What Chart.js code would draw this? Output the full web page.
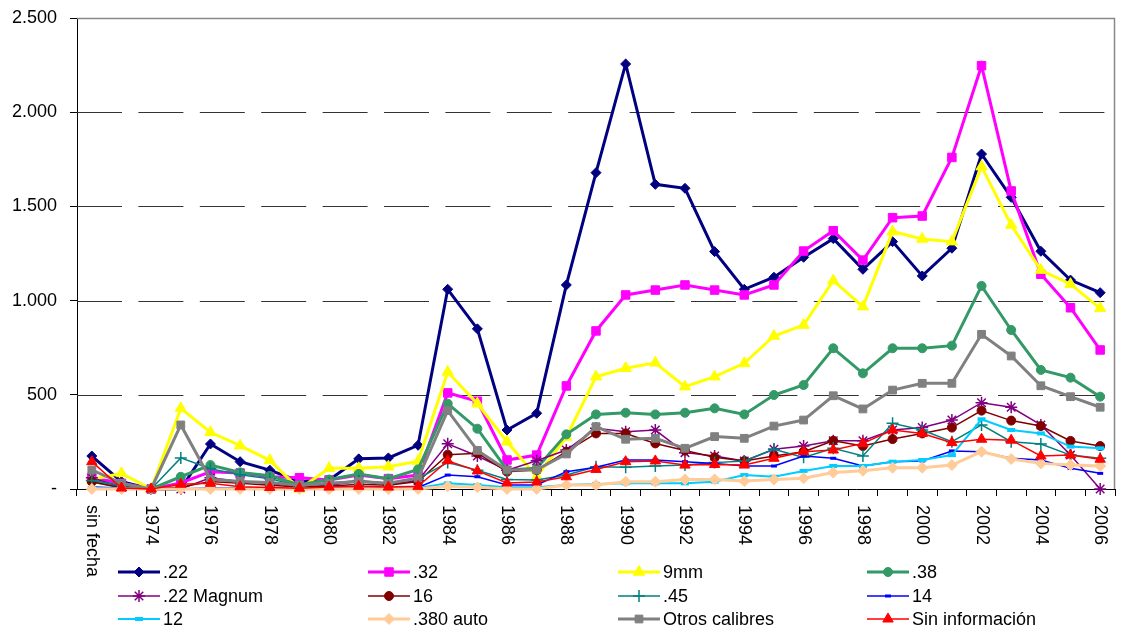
<!DOCTYPE html>
<html lang="es">
<head>
<meta charset="utf-8">
<title>Armas por calibre y año</title>
<script src="https://cdn.jsdelivr.net/npm/chart.js@4.4.1/dist/chart.umd.min.js"></script>
<style>
  html, body { margin: 0; padding: 0; background: #ffffff; }
  #wrap { width: 1123px; height: 635px; position: relative; }
</style>
</head>
<body>
<div id="wrap"><canvas id="c" width="1123" height="635"></canvas></div>
<script>
// Categorías del eje X
const years = ['sin fecha', '1973', '1974', '1975', '1976', '1977', '1978', '1979', '1980',
  '1981', '1982', '1983', '1984', '1985', '1986', '1987', '1988', '1989', '1990', '1991',
  '1992', '1993', '1994', '1995', '1996', '1997', '1998', '1999', '2000', '2001', '2002',
  '2003', '2004', '2005', '2006'];

// Marcas del eje Y
const yTickValues = [0, 500, 1000, 1500, 2000, 2500];
const yTickLabels = ['-', '500', '1.000', '1.500', '2.000', '2.500'];

// Series por calibre
const cal22 = [175, 39, 0, 0, 239, 145, 100, 40, 48, 160, 165, 232, 1060, 850, 313, 402, 1083, 1679, 2256, 1617, 1596, 1260, 1060, 1124, 1230, 1329, 1166, 1313, 1131, 1278, 1778, 1548, 1262, 1109, 1042];
const cal32 = [60, 30, 0, 32, 92, 85, 65, 60, 48, 74, 55, 74, 510, 466, 154, 180, 547, 839, 1030, 1056, 1083, 1056, 1030, 1083, 1263, 1371, 1215, 1440, 1449, 1760, 2247, 1582, 1140, 962, 738];
const cal9mm = [50, 83, 0, 428, 301, 230, 152, 0, 110, 110, 118, 147, 621, 453, 251, 65, 276, 596, 641, 670, 543, 596, 667, 812, 870, 1106, 968, 1366, 1327, 1313, 1711, 1401, 1162, 1087, 959];
const cal38 = [40, 15, 0, 65, 127, 88, 70, 21, 50, 80, 55, 104, 453, 320, 101, 110, 290, 396, 405, 396, 405, 428, 396, 499, 552, 747, 614, 747, 747, 761, 1078, 844, 632, 591, 490];
const cal22Magnum = [60, 10, 0, 0, 60, 40, 30, 10, 20, 40, 25, 45, 240, 175, 100, 150, 207, 322, 304, 313, 193, 175, 149, 211, 228, 256, 256, 313, 326, 366, 458, 434, 340, 180, 0];
const cal16 = [39, 5, 0, 10, 40, 30, 20, 10, 15, 25, 20, 40, 182, 190, 92, 101, 198, 295, 295, 242, 204, 168, 149, 175, 198, 256, 228, 265, 295, 326, 416, 363, 334, 255, 228];
const cal45 = [45, 20, 0, 165, 108, 75, 55, 15, 30, 45, 30, 55, 140, 100, 51, 48, 74, 118, 115, 122, 127, 140, 149, 211, 168, 216, 175, 349, 313, 251, 340, 251, 239, 180, 163];
const cal14 = [10, 5, 0, 0, 5, 5, 3, 3, 3, 5, 5, 8, 74, 65, 21, 21, 92, 115, 154, 154, 145, 136, 122, 122, 175, 163, 122, 145, 149, 202, 198, 163, 154, 110, 83];
const cal12 = [5, 2, 0, 0, 3, 3, 2, 2, 2, 3, 3, 5, 30, 21, 9, 9, 21, 27, 30, 30, 30, 39, 74, 65, 96, 122, 122, 145, 154, 180, 370, 313, 295, 225, 216];
const cal380 = [0, 0, 0, 0, 0, 0, 0, 0, 0, 0, 0, 0, 14, 9, 0, 0, 21, 21, 39, 39, 51, 51, 42, 51, 57, 87, 97, 113, 113, 127, 198, 159, 136, 127, 122];
const otros = [101, 30, 0, 340, 52, 40, 35, 20, 30, 40, 30, 58, 416, 205, 101, 102, 186, 331, 264, 269, 216, 278, 269, 334, 366, 495, 425, 525, 561, 561, 821, 706, 548, 490, 434];
const sinInfo = [145, 5, 0, 25, 30, 12, 8, 4, 10, 14, 10, 14, 150, 96, 32, 37, 65, 104, 145, 149, 127, 130, 127, 163, 198, 207, 242, 313, 295, 246, 264, 259, 175, 180, 158];

const FONT = '"Liberation Sans", Arial, Helvetica, sans-serif';

function serie(label, data, color, width, style, radius, pbw) {
  return {
    label: label,
    data: data,
    borderColor: color,
    backgroundColor: color,
    borderWidth: width,
    pointStyle: style,
    pointRadius: radius,
    pointHoverRadius: radius,
    pointBackgroundColor: color,
    pointBorderColor: color,
    pointBorderWidth: pbw,
    tension: 0,
    fill: false,
    clip: false
  };
}

const datasets = [
  serie('.22', cal22, '#000080', 3, 'rectRot', 5, 1),
  serie('.32', cal32, '#FF00FF', 3, 'rect', 6, 1),
  serie('9mm', cal9mm, '#FFFF00', 3, 'triangle', 6.5, 1),
  serie('.38', cal38, '#339966', 3, 'circle', 4.5, 1),
  serie('.22 Magnum', cal22Magnum, '#800080', 1.5, 'star', 6, 1.5),
  serie('16', cal16, '#800000', 1.5, 'circle', 4.5, 1),
  serie('.45', cal45, '#008080', 1.5, 'cross', 6, 1.5),
  serie('14', cal14, '#0000FF', 1.5, 'line', 3, 3),
  serie('12', cal12, '#00CCFF', 2, 'line', 4, 4),
  serie('.380 auto', cal380, '#FFCC99', 3, 'rectRot', 5.5, 1),
  serie('Otros calibres', otros, '#808080', 3, 'rect', 5.5, 1),
  serie('Sin información', sinInfo, '#FF0000', 1.5, 'triangle', 6, 1)
];
// las últimas series se pintan encima
datasets.forEach((d, i) => { d.order = datasets.length - i; });

// Líneas de guía discontinuas y marco gris superior/derecho
const plotFrame = {
  id: 'plotFrame',
  beforeDatasetsDraw(chart) {
    const a = chart.chartArea, ctx = chart.ctx, ys = chart.scales.y;
    ctx.save();
    ctx.strokeStyle = '#333333';
    ctx.lineWidth = 1;
    ctx.setLineDash([45, 16.4]);
    yTickValues.forEach(v => {
      if (v === 0 || v === 2500) return;
      const y = Math.round(ys.getPixelForValue(v)) + 0.5;
      ctx.beginPath();
      ctx.moveTo(a.left, y);
      ctx.lineTo(a.right, y);
      ctx.stroke();
    });
    ctx.setLineDash([]);
    ctx.strokeStyle = '#888888';
    ctx.lineWidth = 1.5;
    ctx.beginPath();
    ctx.moveTo(a.left, a.top + 0.5);
    ctx.lineTo(a.right - 0.5, a.top + 0.5);
    ctx.lineTo(a.right - 0.5, a.bottom);
    ctx.stroke();
    ctx.restore();
  }
};

// Etiquetas verticales del eje X (una de cada dos categorías)
const verticalLabels = {
  id: 'verticalLabels',
  afterDraw(chart) {
    const xs = chart.scales.x, ctx = chart.ctx;
    ctx.save();
    ctx.fillStyle = '#000000';
    ctx.font = '18px ' + FONT;
    ctx.textAlign = 'left';
    ctx.textBaseline = 'middle';
    years.forEach((lab, i) => {
      if (i % 2 !== 0) return;
      const x = xs.getPixelForValue(i);
      ctx.save();
      ctx.translate(x, xs.top + 16);
      ctx.rotate(Math.PI / 2);
      ctx.fillText(lab, 0, 0);
      ctx.restore();
    });
    ctx.restore();
  }
};

// Leyenda en cuadrícula de 4 columnas
const gridLegend = {
  id: 'gridLegend',
  afterDraw(chart) {
    const ctx = chart.ctx;
    const cols = [118, 368, 618, 867];
    const rows = [572, 596, 619];
    chart.data.datasets.forEach((ds, i) => {
      const x = cols[i % 4], y = rows[Math.floor(i / 4)];
      ctx.save();
      ctx.strokeStyle = ds.borderColor;
      ctx.lineWidth = ds.borderWidth;
      ctx.beginPath();
      ctx.moveTo(x, y);
      ctx.lineTo(x + 42, y);
      ctx.stroke();
      ctx.fillStyle = ds.pointBackgroundColor;
      ctx.strokeStyle = ds.pointBorderColor;
      ctx.lineWidth = ds.pointBorderWidth;
      Chart.helpers.drawPoint(ctx, {
        pointStyle: ds.pointStyle,
        radius: ds.pointRadius,
        rotation: 0,
        borderWidth: ds.pointBorderWidth
      }, x + 21, y);
      ctx.fillStyle = '#000000';
      ctx.font = '18px ' + FONT;
      ctx.textAlign = 'left';
      ctx.textBaseline = 'middle';
      ctx.fillText(ds.label, x + 45, y + 1);
      ctx.restore();
    });
  }
};

new Chart(document.getElementById('c'), {
  type: 'line',
  data: { labels: years, datasets: datasets },
  plugins: [plotFrame, verticalLabels, gridLegend],
  options: {
    responsive: false,
    animation: false,
    events: [],
    layout: { padding: { top: 18, right: 5, left: 0, bottom: 0 } },
    plugins: {
      legend: { display: false },
      tooltip: { enabled: false },
      title: { display: false }
    },
    scales: {
      x: {
        type: 'category',
        offset: true,
        ticks: { display: false },
        grid: {
          display: true,
          offset: true,
          drawOnChartArea: false,
          drawTicks: true,
          tickLength: 7,
          tickColor: '#000000',
          tickWidth: 1
        },
        border: { display: true, color: '#000000', width: 1 },
        afterFit(scale) { scale.height = 146; scale.paddingLeft = 0; scale.paddingRight = 0; }
      },
      y: {
        min: 0,
        max: 2500,
        afterBuildTicks(scale) {
          scale.ticks = yTickValues.map(v => ({ value: v }));
        },
        ticks: {
          color: '#000000',
          font: { family: FONT, size: 18 },
          padding: 13,
          callback(value) {
            const k = yTickValues.indexOf(value);
            return k >= 0 ? yTickLabels[k] : '';
          }
        },
        grid: {
          color: 'rgba(0,0,0,0)',
          drawOnChartArea: true,
          drawTicks: true,
          tickLength: 7,
          tickColor: '#000000',
          tickWidth: 1
        },
        border: { display: true, color: '#000000', width: 1 },
        afterFit(scale) { scale.width = 77; scale.paddingTop = 0; scale.paddingBottom = 0; }
      }
    }
  }
});
</script>
</body>
</html>
